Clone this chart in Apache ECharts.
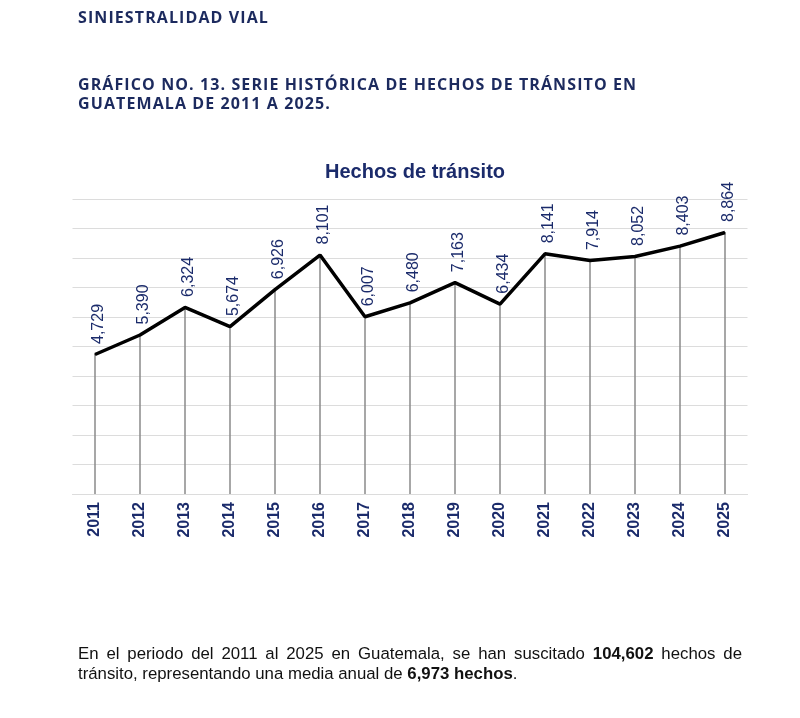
<!DOCTYPE html>
<html>
<head>
<meta charset="utf-8">
<script src="https://cdn.jsdelivr.net/npm/echarts@6/dist/echarts.min.js"></script>
<style>
  html, body { margin: 0; padding: 0; background: #fff; }
  .page { position: relative; width: 800px; height: 718px; overflow: hidden; }
  .head { position: absolute; left: 78px; font-family: "Open Sans", sans-serif; font-weight: 700;
          font-size: 16px; color: #1c2a5e; letter-spacing: 1.1px; line-height: 19px; white-space: nowrap; }
  .note { position: absolute; left: 78px; width: 664px; font-family: "Liberation Sans", Arial, sans-serif;
          font-size: 16.8px; line-height: 20px; color: #111; white-space: nowrap; }
  .note.l1 { top: 644px; text-align: justify; text-align-last: justify; }
  .note.l2 { top: 664px; }
  #chart { position: absolute; left: 0; top: 0; width: 800px; height: 718px; }
</style>
</head>
<body>
<div class="page">
  <div id="chart"></div>
  <div class="head" style="top:8px">SINIESTRALIDAD VIAL</div>
  <div class="head" style="top:75px">GRÁFICO NO. 13. SERIE HISTÓRICA DE HECHOS DE TRÁNSITO EN<br>GUATEMALA DE 2011 A 2025.</div>
  <div class="note l1">En el periodo del 2011 al 2025 en Guatemala, se han suscitado <b>104,602</b> hechos de</div>
  <div class="note l2">tránsito, representando una media anual de <b>6,973 hechos</b>.</div>
</div>
<script>
// datos
const years = ['2011', '2012', '2013', '2014', '2015', '2016', '2017', '2018', '2019', '2020', '2021', '2022', '2023', '2024', '2025']
const hechos = [4729, 5390, 6324, 5674, 6926, 8101, 6007, 6480, 7163, 6434, 8141, 7914, 8052, 8403, 8864]

const navy = '#1b2b6b'
const chart = echarts.init(document.getElementById('chart'), null, { renderer: 'canvas' })

const option = {
  animation: false,
  title: {
    text: 'Hechos de tránsito',
    left: 410,
    textAlign: 'center',
    top: 157,
    textStyle: { fontFamily: 'Liberation Sans', fontSize: 20, fontWeight: 'bold', color: navy }
  },
  grid: { left: 72.5, right: 52.5, top: 199, bottom: 224 },
  xAxis: {
    type: 'category',
    data: years,
    boundaryGap: true,
    axisLine: { lineStyle: { color: '#dcdcdc', width: 1 } },
    axisTick: { show: false },
    axisLabel: {
      rotate: 90,
      margin: 8,
      fontFamily: 'Liberation Sans',
      fontSize: 16,
      fontWeight: 'bold',
      color: navy
    }
  },
  yAxis: {
    type: 'value',
    min: 0,
    max: 10000,
    interval: 1000,
    axisLabel: { show: false },
    axisLine: { show: false },
    axisTick: { show: false },
    splitLine: { lineStyle: { color: '#dcdcdc', width: 1 } }
  },
  series: [
    {
      // líneas verticales desde el eje
      type: 'bar',
      data: hechos,
      barWidth: 1.5,
      itemStyle: { color: '#8a8a8a' },
      silent: true,
      z: 1
    },
    {
      type: 'line',
      data: hechos,
      symbol: 'circle',
      symbolSize: 1,
      showSymbol: true,
      itemStyle: { color: '#000' },
      lineStyle: { color: '#000', width: 3.5 },
      z: 3,
      label: {
        show: true,
        position: 'top',
        distance: 10,
        rotate: 90,
        align: 'left',
        verticalAlign: 'middle',
        offset: [0, 4],
        fontFamily: 'Liberation Sans',
        fontSize: 16,
        color: navy,
        formatter: p => p.value.toLocaleString('en-US')
      }
    }
  ]
}

chart.setOption(option)
</script>
</body>
</html>
